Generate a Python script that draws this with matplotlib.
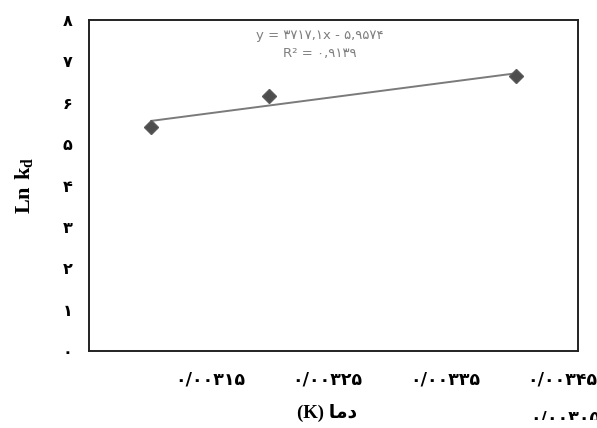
import matplotlib.pyplot as plt
from matplotlib.transforms import Bbox, TransformedBbox
import numpy as np

plt.rcParams['mathtext.fontset'] = 'custom'
plt.rcParams['mathtext.rm'] = 'Liberation Serif'
plt.rcParams['mathtext.bf'] = 'Liberation Serif:bold'

# data (1/T vs Ln kd)
inv_t = [0.00310, 0.00320, 0.00341]
ln_kd = [5.41, 6.16, 6.64]

x_ticks = [0.00315, 0.00325, 0.00335, 0.00345]
x_labels = ['۰/۰۰۳۱۵', '۰/۰۰۳۲۵', '۰/۰۰۳۳۵', '۰/۰۰۳۴۵']
y_ticks = [0, 1, 2, 3, 4, 5, 6, 7, 8]
y_labels = ['۰', '۱', '۲', '۳', '۴', '۵', '۶', '۷', '۸']

eq_text = 'y = ۳۷۱۷,۱x - ۵,۹۵۷۴'
r2_text = 'R² = ۰,۹۱۳۹'

fig = plt.figure(figsize=(5.97, 4.28), dpi=100)
ax = fig.add_axes([0.149, 0.180, 0.819, 0.773])

# linear trend line
k, b = np.polyfit(inv_t, ln_kd, 1)
xs = np.array([min(inv_t), max(inv_t)])
ax.plot(xs, k * xs + b, color='#7a7a7a', lw=1.4, zorder=2)
ax.plot(inv_t, ln_kd, linestyle='none', marker='D', ms=7, color='#4d4d4d',
        mec='#5a5a5a', zorder=3)

ax.set_xlim(0.003047, 0.003463)
ax.set_ylim(0, 8)
ax.set_xticks(x_ticks)
ax.set_xticklabels(x_labels, fontsize=12.5, fontweight='bold', family='DejaVu Sans')
ax.set_yticks(y_ticks)
ax.set_yticklabels(y_labels, fontsize=11.5, fontweight='bold', family='DejaVu Sans')
ax.tick_params(axis='x', length=0, pad=14)
ax.tick_params(axis='y', length=0, pad=12)
for s in ax.spines.values():
    s.set_linewidth(1.4)
    s.set_color('#222222')

ax.set_ylabel(r'$\mathbf{Ln\ k_d}$', fontsize=16, labelpad=20)
fig.text(0.548, 0.034, '(K) ' + '\uFE8E\uFEE3\u062F', ha='center', va='center',
         fontsize=13.5, fontweight='bold', family=['Liberation Serif', 'DejaVu Sans'])

ax.text(0.472, 0.955, eq_text, transform=ax.transAxes, ha='center', va='center',
        fontsize=9.5, color='#7f7f7f', family='DejaVu Sans')
ax.text(0.472, 0.90, r2_text, transform=ax.transAxes, ha='center', va='center',
        fontsize=9.5, color='#7f7f7f', family='DejaVu Sans')

# stray first tick label, mostly hidden at bottom right
t = fig.text(0.888, 0.045, '۰/۰۰۳۰۵', ha='left', va='top', fontsize=12.5,
             fontweight='bold', family='DejaVu Sans')
t.set_clip_box(TransformedBbox(Bbox([[0.85, 0.019], [1.0, 0.040]]), fig.transFigure))
t.set_clip_on(True)

fig.savefig('out.png', dpi=100)
